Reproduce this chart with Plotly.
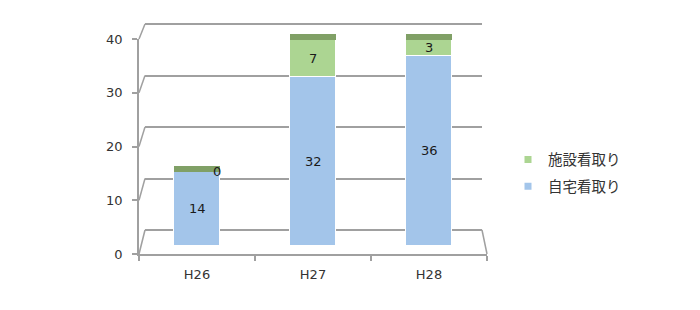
import plotly.graph_objects as go

# ---- data ----
categories = ["H26", "H27", "H28"]
home_values = [14, 32, 36]        # 自宅看取り
facility_values = [0, 7, 3]       # 施設看取り
y_tick_values = [0, 10, 20, 30, 40]
series_names = ["自宅看取り", "施設看取り"]

# ---- styles / geometry ----
W, H = 700, 310
BLUE = "#a3c5ea"
GREEN = "#acd592"
TOP = "#80a066"
GRID = "#a0a0a0"
TXT = "#333333"
FONT = "DejaVu Sans"
CJK = "Noto Sans CJK JP"

def fx(p):
    return p / W

def fy(p):
    return (H - p) / H

# front (label) axis pixels, back wall pixels, bar pixels
FRONT_L, FRONT_R, FRONT_0, FRONT_40 = 139, 487, 254, 39
BACK_L, BACK_R, BACK_0, BACK_40 = 145, 482, 230, 24
BAR_0, BAR_SCALE, BAR_TOPPX = 246, 5.29, 10
DEPTH = 6 / BAR_SCALE
BAR_W = 0.39
PAD = 1.0  # grid-axis padding in data units

bar_ymax = (BAR_0 - BAR_TOPPX) / BAR_SCALE
back_s = (BACK_0 - BACK_40) / 40
idx = list(range(len(categories)))

fig = go.Figure()

# invisible anchors so the grid subplot and the label-axis subplot get drawn
fig.add_trace(go.Scatter(x=[None], y=[None], xaxis="x", yaxis="y", showlegend=False, hoverinfo="skip"))
fig.add_trace(go.Scatter(x=[None], y=[None], xaxis="x2", yaxis="y2", showlegend=False, hoverinfo="skip"))

# stacked bars on x3/y3 (drawn above the back-wall grid subplot)
fig.add_trace(go.Bar(x=idx, y=home_values, name=series_names[0],
                     marker=dict(color=BLUE, line=dict(color="white", width=1)),
                     width=BAR_W, xaxis="x3", yaxis="y3", showlegend=False, hoverinfo="skip"))
fig.add_trace(go.Bar(x=idx, y=facility_values, name=series_names[1],
                     marker=dict(color=GREEN, line=dict(color="white", width=1)),
                     width=BAR_W, xaxis="x3", yaxis="y3", showlegend=False, hoverinfo="skip"))
fig.add_trace(go.Bar(x=idx, y=[DEPTH] * len(categories),
                     marker=dict(color=TOP, line=dict(width=0)),
                     width=BAR_W, xaxis="x3", yaxis="y3", showlegend=False, hoverinfo="skip"))

# legend entries (small squares), top entry first
fig.add_trace(go.Scatter(x=[None], y=[None], mode="markers", name=series_names[1],
                         legendgroup="a",
                         marker=dict(symbol="square", size=7, color=GREEN),
                         xaxis="x3", yaxis="y3"))
fig.add_trace(go.Scatter(x=[None], y=[None], mode="markers", name=series_names[0],
                         legendgroup="b",
                         marker=dict(symbol="square", size=7, color=BLUE),
                         xaxis="x3", yaxis="y3"))

# data labels
annotations = []
for i, (h, f) in enumerate(zip(home_values, facility_values)):
    for base, v in ((0, h), (h, f)):
        annotations.append(dict(
            x=i, y=base + v / 2, xref="x3", yref="y3", text=str(v), showarrow=False,
            font=dict(family=FONT, size=13, color="#1a1a1a"),
            xshift=20 if v == 0 else 0))

# left wall diagonals and right floor diagonal
def front_px(v):
    return FRONT_0 - (FRONT_0 - FRONT_40) * v / 40

def back_px(v):
    return BACK_0 - back_s * v

shapes = []
for v in y_tick_values:
    shapes.append(dict(type="line", xref="paper", yref="paper",
                       x0=fx(FRONT_L), y0=fy(front_px(v)), x1=fx(BACK_L), y1=fy(back_px(v)),
                       line=dict(color=GRID, width=1.5), layer="below"))
shapes.append(dict(type="line", xref="paper", yref="paper",
                   x0=fx(BACK_R), y0=fy(back_px(0)), x1=fx(FRONT_R), y1=fy(FRONT_0),
                   line=dict(color=GRID, width=1.5), layer="below"))

fig.update_layout(
    width=W, height=H,
    margin=dict(l=0, r=0, t=0, b=0, pad=0, autoexpand=False),
    paper_bgcolor="white", plot_bgcolor="rgba(0,0,0,0)",
    barmode="stack", bargap=0,
    font=dict(family=FONT, size=13, color=TXT),
    # back wall grid
    xaxis=dict(domain=[fx(BACK_L), fx(BACK_R)], range=[0, 1], visible=False, automargin=False),
    yaxis=dict(domain=[fy(back_px(-PAD)), fy(back_px(40 + PAD))], range=[-PAD, 40 + PAD],
               anchor="x", automargin=False,
               tickvals=y_tick_values, showgrid=True, gridcolor=GRID, gridwidth=1.6,
               showticklabels=False, ticks="", zeroline=False, showline=False),
    # front axes with labels
    xaxis2=dict(domain=[fx(FRONT_L), fx(FRONT_R)], range=[-0.5, 2.5], anchor="y2",
                automargin=False,
                tickvals=idx, ticktext=categories, ticks="",
                showgrid=False, zeroline=False, showline=True, linecolor=GRID, linewidth=1.5,
                ticklabelstandoff=8,
                minor=dict(tickvals=[-0.5, 0.5, 1.5, 2.5], ticks="outside", ticklen=5,
                           tickcolor=GRID, tickwidth=1.5, showgrid=False),
                tickfont=dict(family=FONT, size=13, color=TXT)),
    yaxis2=dict(domain=[fy(FRONT_0), fy(FRONT_40)], range=[0, 40], anchor="x2",
                automargin=False,
                tickvals=y_tick_values, ticks="outside", ticklen=5, tickcolor=GRID, tickwidth=1.5,
                showgrid=False, zeroline=False, showline=True, linecolor=GRID, linewidth=1.5,
                ticklabelstandoff=7,
                tickfont=dict(family=FONT, size=13, color=TXT)),
    # bars
    xaxis3=dict(domain=[fx(FRONT_L), fx(FRONT_R)], range=[-0.5, 2.5], anchor="y3",
                visible=False, automargin=False),
    yaxis3=dict(domain=[fy(BAR_0), fy(BAR_TOPPX)], range=[0, bar_ymax], anchor="x3",
                visible=False, automargin=False),
    legend=dict(x=fx(508), y=fy(173), xanchor="left", yanchor="middle",
                traceorder="grouped", bgcolor="rgba(0,0,0,0)", tracegroupgap=5,
                font=dict(family=CJK, size=14.5, color=TXT), itemwidth=30),
    annotations=annotations,
    shapes=shapes,
    showlegend=True,
)

fig.write_html("out.html")
